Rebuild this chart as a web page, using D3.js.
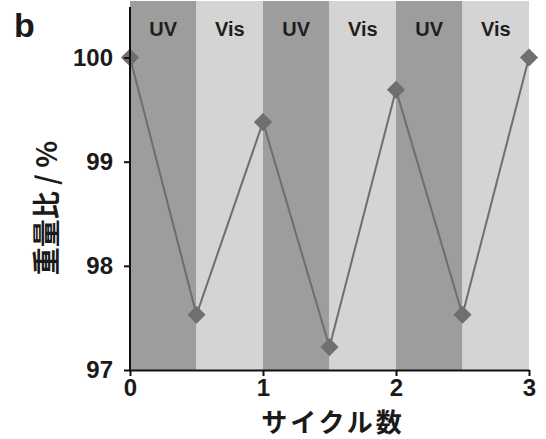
<!DOCTYPE html>
<html><head><meta charset="utf-8">
<script src="https://cdn.jsdelivr.net/npm/d3@7"></script>
<style>body{margin:0;background:#fff}</style>
</head><body>
<svg id="c" width="546" height="439"></svg>
<script>
const cycles = [0, 0.5, 1, 1.5, 2, 2.5, 3];
const weightRatio = [100, 97.53, 99.38, 97.22, 99.69, 97.53, 100];
const bandLabels = ["UV", "Vis", "UV", "Vis", "UV", "Vis"];
const bandStarts = [0, 0.5, 1, 1.5, 2, 2.5];
const xTicks = [0, 1, 2, 3];
const yTicks = [97, 98, 99, 100];

const svg = d3.select("#c");
const L = 130, R = 529, T = 1, B = 370;
const x = d3.scaleLinear().domain([0, 3]).range([L, R]);
const y = d3.scaleLinear().domain([97, 100]).range([B, 57.5]);
const font = "'Liberation Sans', Arial, sans-serif";
const jfont = "'Noto Sans CJK JP', sans-serif";

// bands
svg.selectAll("rect.band").data(bandStarts).enter().append("rect")
  .attr("x", d => x(d)).attr("y", T)
  .attr("width", d => x(d + 0.5) - x(d)).attr("height", B - T)
  .attr("fill", (d, i) => bandLabels[i] === "UV" ? "#9d9d9d" : "#d4d4d4");

svg.selectAll("text.band").data(bandStarts).enter().append("text")
  .attr("x", d => x(d + 0.25)).attr("y", 36)
  .attr("text-anchor", "middle").attr("font-family", font).attr("font-weight", "bold")
  .attr("font-size", 20).attr("fill", "#1e1e1e")
  .text((d, i) => bandLabels[i]);

// line
svg.append("path").datum(cycles.map((c, i) => [c, weightRatio[i]]))
  .attr("d", d3.line().x(d => x(d[0])).y(d => y(d[1])))
  .attr("fill", "none").attr("stroke", "#6e6e6e").attr("stroke-width", 2);

// markers
svg.selectAll("path.m").data(cycles).enter().append("path")
  .attr("d", d3.symbol(d3.symbolSquare, 165)())
  .attr("transform", (d, i) => `translate(${x(d)},${y(weightRatio[i])}) rotate(45)`)
  .attr("fill", "#6f6f6f");

// axes
const yAxis = d3.axisLeft(y).tickValues(yTicks).tickFormat(d3.format("d")).tickSize(6).tickSizeOuter(0).tickPadding(11);
const gy = svg.append("g").attr("transform", `translate(${L},0)`).call(yAxis);
gy.select(".domain").attr("d", `M0,${7}V${B}`).attr("stroke", "#111").attr("stroke-width", 2);
gy.selectAll(".tick line").attr("stroke", "#111").attr("stroke-width", 2);
gy.selectAll("text").attr("font-family", font).attr("font-weight", "bold").attr("font-size", 24).attr("fill", "#1a1a1a");

const xAxis = d3.axisBottom(x).tickValues(xTicks).tickFormat(d3.format("d")).tickSize(6).tickSizeOuter(0).tickPadding(3);
const gx = svg.append("g").attr("transform", `translate(0,${B})`).call(xAxis);
gx.select(".domain").attr("stroke", "#111").attr("stroke-width", 2);
gx.selectAll(".tick line").attr("stroke", "#111").attr("stroke-width", 2);
gx.selectAll("text").attr("font-family", font).attr("font-weight", "bold").attr("font-size", 24).attr("fill", "#1a1a1a");

// titles
svg.append("text").attr("x", 14).attr("y", 37).attr("font-family", font).attr("font-weight", "bold")
  .attr("font-size", 34).attr("fill", "#1a1a1a").text("b");
svg.append("text").attr("x", 333).attr("y", 432).attr("text-anchor", "middle")
  .attr("font-family", jfont).attr("font-weight", "bold").attr("font-size", 26)
  .attr("letter-spacing", 3).attr("fill", "#1a1a1a")
  .text("サイクル数");
svg.append("text").attr("transform", "translate(57,208) rotate(-90)").attr("text-anchor", "middle")
  .attr("font-family", jfont).attr("font-weight", "bold").attr("font-size", 28).attr("fill", "#1a1a1a")
  .text("重量比 / %");
</script>
</body></html>
